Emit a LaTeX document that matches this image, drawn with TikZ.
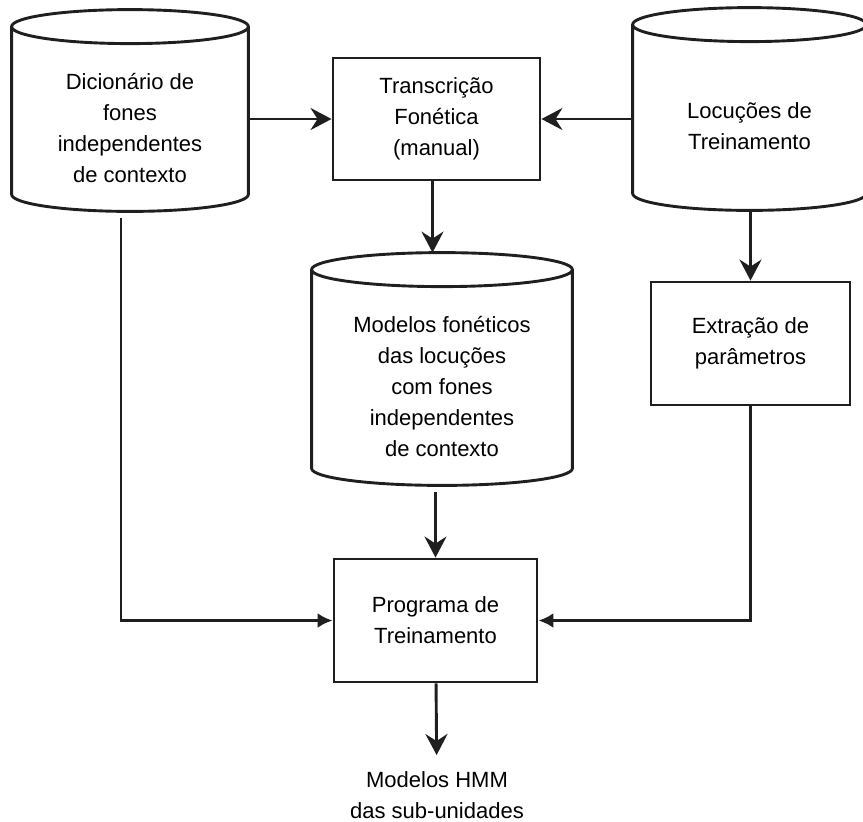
\documentclass[tikz,border=0pt]{standalone}
\usepackage{fontspec}
\setmainfont{Liberation Sans}
\usetikzlibrary{arrows.meta,calc}

\newcommand{\drawcyl}[1]{%
	\draw[wire] let \p1=(#1.north west), \p2=(#1.south east) in
		(\x1,\y1+8.5pt) -- (\x1,\y2+8.5pt)
		arc[start angle=180,end angle=360,x radius={(\x2-\x1)/2},y radius=8.5pt]
		-- (\x2,\y1+8.5pt)
		(\x1/2+\x2/2,\y1+8.5pt) ellipse[x radius={(\x2-\x1)/2},y radius=8.5pt];}

\begin{document}
\begin{tikzpicture}[x=0.5pt,y=-0.5pt,
		font=\fontsize{11}{15.5}\selectfont,
		wire/.style={line width=1.45pt,draw=black!88},
		arr/.style={wire,-{Stealth[length=10.5pt,width=11pt,inset=3.5pt]}},
		tri/.style={wire,-{Latex[length=7.5pt,width=7.5pt]}},
		box/.style={draw,wire,align=center,inner sep=0pt},
		cyl/.style={align=center,inner sep=0pt}]
		\useasboundingbox (0,0) rectangle (863,821);
		\node[cyl,minimum width=118pt,minimum height=83.5pt] (dic) at (130,127.5) {Dicionário de\\fones\\independentes\\de contexto};
		\node[cyl,minimum width=116.5pt,minimum height=84pt] (loc) at (749.5,126) {Locuções de\\Treinamento};
		\node[cyl,minimum width=130pt,minimum height=99pt] (mod) at (442,386) {Modelos fonéticos\\das locuções\\com fones\\independentes\\de contexto};
		\drawcyl{dic}
		\drawcyl{loc}
		\drawcyl{mod}
		\node[box,minimum width=103.5pt,minimum height=61pt] (trans) at (436.5,119) {Transcrição\\Fonética\\(manual)};
		\node[box,minimum width=99.5pt,minimum height=61.5pt] (ext) at (750.5,343.5) {Extração de\\parâmetros};
		\node[box,minimum width=101.5pt,minimum height=61.5pt] (prog) at (435.5,620.5) {Programa de\\Treinamento};
		\node[align=center,inner sep=8pt] (out) at (437,795) {Modelos HMM\\das sub-unidades};
		\coordinate (modtop) at ([yshift=17pt]mod.north);
		\draw[arr] (dic.east |- trans) -- (trans);
		\draw[arr] (loc.west |- trans) -- (trans);
		\draw[arr] ([xshift=-2pt]trans.south) -- ([xshift=-2pt]trans.south |- modtop);
		\draw[arr] (ext |- loc.south) -- (ext);
		\draw[arr,shorten <=3.5pt] (prog |- mod.south) -- (prog);
		\draw[tri,shorten <=3.5pt] ([xshift=-4.5pt]dic.south) |- (prog);
		\draw[tri] (ext) |- (prog);
		\draw[arr] (prog) -- (out);
\end{tikzpicture}
\end{document}
